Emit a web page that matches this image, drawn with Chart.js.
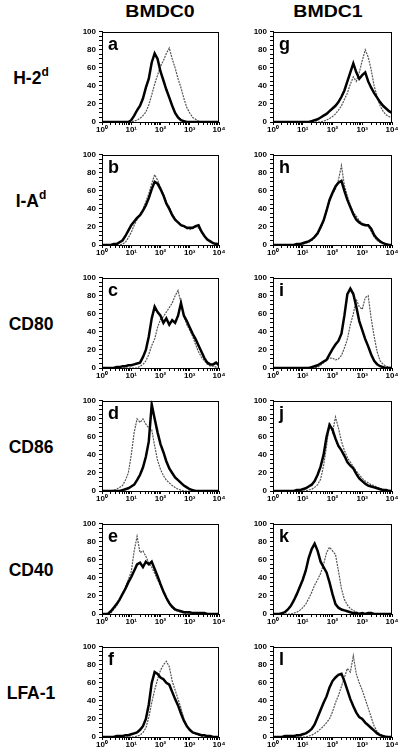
<!DOCTYPE html>
<html>
<head>
<meta charset="utf-8">
<script src="https://cdn.jsdelivr.net/npm/chart.js@4/dist/chart.umd.min.js"></script>
<style>
  body { margin: 0; background: #fff; width: 400px; height: 753px; position: relative; overflow: hidden;
         font-family: "Liberation Sans", Arial, Helvetica, sans-serif; color: #000; }
  canvas { position: absolute; }
  .hdr { position: absolute; top: 3px; font-size: 16px; font-weight: bold; white-space: nowrap;
         transform: translateX(-50%) scaleX(1.22); }
  .row { position: absolute; left: 0; width: 62px; text-align: center; font-size: 17.5px; font-weight: bold; white-space: nowrap; }
  .row sup { font-size: 12px; vertical-align: 0; position: relative; top: -8px; }
  .tag { position: absolute; font-size: 18px; font-weight: bold; line-height: 1; }
</style>
</head>
<body>
<div class="hdr" style="left:160px">BMDC0</div>
<div class="hdr" style="left:328px">BMDC1</div>

<script>
// fluorescence channels (log scale, 10^0 .. 10^4)
const channels = [1, 1.26, 1.58, 2, 2.51, 3.16, 3.98, 5.01, 6.31, 7.94,
  10, 12.6, 15.8, 20, 25.1, 31.6, 39.8, 50.1, 63.1, 79.4,
  100, 126, 158, 200, 251, 316, 398, 501, 631, 794,
  1000, 1259, 1585, 1995, 2512, 3162, 3981, 5012, 6310, 7943, 10000];

const markers = ["H-2", "I-A", "CD80", "CD86", "CD40", "LFA-1"];
const markerSup = ["d", "d", "", "", "", ""];
const columns = ["BMDC0", "BMDC1"];
const xTickLabels = ["10\u2070", "10\u00b9", "10\u00b2", "10\u00b3", "10\u2074"];

// BMDC0 column (thick = black line, thin = grey dotted line)
const aThick = [0,0,0,0,0,0,0,0,0,0,2,7,13,18,26,38,48,66,76,70,56,46,36,27,18,10,5,2,1,0,0,0,0,0,0,0,0,0,0,0,0];
const aThin  = [0,0,0,0,0,0,0,0,0,0,0,1,2,4,7,11,19,30,42,52,62,68,76,82,70,60,48,38,26,16,10,5,3,1,0,0,0,0,0,0,0];
const bThick = [0,0,0,0,1,1,3,5,10,16,22,26,30,33,38,44,52,62,70,68,62,55,46,40,33,28,25,22,21,19,19,19,21,22,15,10,6,4,2,1,1];
const bThin  = [0,0,0,0,0,0,0,1,3,8,14,22,28,34,40,48,57,68,78,72,64,56,48,42,35,29,25,22,20,18,17,18,20,19,14,10,7,5,3,2,1];
const cThick = [0,0,0,0,0,1,1,2,2,3,3,4,5,6,12,20,35,55,68,62,58,50,55,48,53,50,58,72,58,52,45,38,32,25,18,11,6,4,4,6,3];
const cThin  = [0,0,0,0,0,0,0,0,0,0,0,0,0,2,4,8,15,25,32,45,54,57,62,67,72,80,86,72,58,48,42,35,26,18,12,8,4,2,2,1,1];
const dThick = [0,0,0,0,0,0,0,1,2,3,5,7,12,18,26,38,55,96,80,65,52,43,33,25,20,15,12,9,6,4,2,1,0,0,0,0,0,0,0,0,0];
const dThin  = [0,0,0,0,1,2,4,6,12,20,40,65,80,76,80,74,70,68,50,34,24,17,12,9,6,4,2,1,0,0,0,0,0,0,0,0,0,0,0,0,0];
const eThick = [0,0,0,3,7,11,16,22,28,35,41,48,55,57,52,58,55,58,50,42,33,25,18,12,8,5,4,3,2,2,2,1,1,1,1,1,0,0,0,0,0];
const eThin  = [0,0,0,1,5,9,15,22,30,38,47,70,86,68,70,64,56,52,45,38,32,24,17,11,7,4,3,2,1,1,1,0,0,0,0,0,0,0,0,0,0];
const fThick = [0,0,0,0,0,1,1,1,2,2,3,4,5,8,12,20,36,60,72,70,66,64,60,58,50,42,35,26,18,12,8,5,4,3,2,2,1,1,0,0,0];
const fThin  = [0,0,0,0,0,0,0,0,0,0,0,0,1,2,5,10,22,38,52,64,74,80,84,78,62,52,42,32,20,13,8,5,3,2,1,0,0,0,0,0,0];

// BMDC1 column
const gThick = [0,0,0,0,0,0,0,0,0,0,0,0,0,1,2,3,5,7,9,12,15,18,22,28,35,45,55,65,55,48,52,55,45,38,32,27,22,18,15,12,10];
const gThin  = [0,0,0,0,0,0,0,0,0,0,0,0,0,0,0,0,0,1,2,4,6,9,13,18,25,32,42,50,45,55,68,80,72,58,40,28,18,12,8,6,5];
const hThick = [0,0,0,0,0,0,0,0,1,1,2,3,4,6,9,13,20,27,38,50,58,65,69,71,60,50,42,34,28,25,23,22,22,18,11,7,4,2,1,0,0];
const hThin  = [0,0,0,0,0,0,0,0,0,0,1,2,3,5,8,12,18,26,38,48,56,62,72,88,66,54,44,36,32,27,24,23,21,15,9,5,3,2,1,0,0];
const iThick = [0,0,0,0,0,0,0,0,0,0,0,0,0,1,2,3,5,7,9,15,21,26,30,38,58,82,88,82,68,52,42,32,24,15,8,4,2,1,0,0,0];
const iThin  = [0,0,0,0,0,0,0,0,0,0,0,0,0,0,0,1,3,6,9,11,11,9,10,14,22,32,48,60,76,68,65,78,80,55,35,18,8,4,2,1,0];
const jThick = [0,0,0,0,0,0,0,0,1,1,2,3,5,7,11,18,27,40,60,73,68,58,50,45,39,32,28,25,19,14,11,8,6,5,4,3,2,1,1,0,0];
const jThin  = [0,0,0,0,0,0,0,0,0,0,0,0,1,2,4,7,13,28,50,76,65,82,70,55,45,37,32,27,22,18,14,11,9,7,6,4,3,2,1,1,0];
const kThick = [0,0,0,1,2,5,9,15,22,30,38,48,62,72,78,70,58,52,46,35,22,11,7,5,4,3,2,1,1,0,1,0,1,1,0,0,0,0,0,0,0];
const kThin  = [0,0,0,0,0,0,0,1,2,4,7,11,17,24,32,38,45,55,68,74,70,66,48,28,16,10,6,4,2,1,1,0,0,0,0,0,0,0,0,0,0];
const lThick = [0,0,0,0,1,1,1,1,2,2,3,4,6,9,14,22,30,38,45,55,62,66,69,70,62,52,42,34,27,22,20,16,13,10,7,4,2,1,0,0,0];
const lThin  = [0,0,0,0,0,0,0,0,0,0,0,0,1,2,4,6,9,12,16,20,28,38,46,56,66,76,72,90,70,60,52,42,32,22,12,6,3,2,1,0,0];

const panels = [
  { tag: "a", col: 0, row: 0, thick: aThick, thin: aThin },
  { tag: "b", col: 0, row: 1, thick: bThick, thin: bThin },
  { tag: "c", col: 0, row: 2, thick: cThick, thin: cThin },
  { tag: "d", col: 0, row: 3, thick: dThick, thin: dThin },
  { tag: "e", col: 0, row: 4, thick: eThick, thin: eThin },
  { tag: "f", col: 0, row: 5, thick: fThick, thin: fThin },
  { tag: "g", col: 1, row: 0, thick: gThick, thin: gThin },
  { tag: "h", col: 1, row: 1, thick: hThick, thin: hThin },
  { tag: "i", col: 1, row: 2, thick: iThick, thin: iThin },
  { tag: "j", col: 1, row: 3, thick: jThick, thin: jThin },
  { tag: "k", col: 1, row: 4, thick: kThick, thin: kThin },
  { tag: "l", col: 1, row: 5, thick: lThick, thin: lThin },
];

Chart.defaults.font.family = '"Liberation Sans", Arial, Helvetica, sans-serif';
Chart.defaults.color = "#000";

// plot-area geometry
const areaLeft = [102, 273];
const areaRight = [219, 392];
const areaTop0 = 30, rowPitch = 123, areaH = 92;
const yAxisW = 32, xAxisH = 16, padTop = 6, padRight = 8;

// box round each plot
const frame = {
  id: "frame",
  afterDraw(chart) {
    const { ctx, chartArea: a } = chart;
    ctx.save();
    ctx.strokeStyle = "#000";
    ctx.lineWidth = 1;
    ctx.strokeRect(Math.round(a.left) + 0.5, Math.round(a.top) + 0.5,
      Math.round(a.right - a.left) - 1, Math.round(a.bottom - a.top));
    ctx.restore();
  },
};

// row labels
markers.forEach((m, r) => {
  const div = document.createElement("div");
  div.className = "row";
  div.style.top = (areaTop0 + r * rowPitch + areaH / 2 - 8) + "px";
  div.innerHTML = m + (markerSup[r] ? "<sup>" + markerSup[r] + "</sup>" : "");
  document.body.appendChild(div);
});

panels.forEach((p) => {
  const top = areaTop0 + p.row * rowPitch;
  const left = areaLeft[p.col] - yAxisW;
  const width = areaRight[p.col] - left + padRight;
  const height = padTop + areaH + xAxisH;

  const canvas = document.createElement("canvas");
  canvas.width = width;
  canvas.height = height;
  canvas.style.left = left + "px";
  canvas.style.top = (top - padTop) + "px";
  document.body.appendChild(canvas);

  const tag = document.createElement("div");
  tag.className = "tag";
  tag.textContent = p.tag;
  tag.style.left = (areaLeft[p.col] + 6) + "px";
  tag.style.top = (top + 5) + "px";
  document.body.appendChild(tag);

  new Chart(canvas.getContext("2d"), {
    type: "line",
    data: {
      datasets: [
        {
          data: channels.map((x, i) => ({ x: x, y: p.thick[i] })),
          borderColor: "#000",
          borderWidth: 2.5,
          pointRadius: 0,
          tension: 0,
        },
        {
          data: channels.map((x, i) => ({ x: x, y: p.thin[i] })),
          borderColor: "#555",
          borderWidth: 1.2,
          borderDash: [2, 1],
          pointRadius: 0,
          tension: 0,
        },
      ],
    },
    options: {
      responsive: false,
      animation: false,
      events: [],
      layout: { padding: { top: padTop, right: padRight, left: 0, bottom: 0 } },
      plugins: { legend: { display: false }, tooltip: { enabled: false } },
      scales: {
        x: {
          type: "logarithmic",
          min: 1,
          max: 10000,
          afterFit: (s) => { s.height = xAxisH; },
          afterBuildTicks: (s) => {
            const t = [];
            [1, 10, 100, 1000].forEach((d) => {
              for (let m = 1; m < 10; m++) t.push({ value: d * m });
            });
            t.push({ value: 10000 });
            s.ticks = t;
          },
          grid: { drawOnChartArea: false, drawTicks: true, tickLength: 3, color: "#000" },
          border: { color: "#000" },
          ticks: {
            autoSkip: false,
            maxRotation: 0,
            padding: 0,
            font: { size: 8, weight: "bold" },
            callback: (v) => {
              const e = Math.round(Math.log10(v));
              return Math.abs(v - Math.pow(10, e)) < 1e-6 ? xTickLabels[e] : "";
            },
          },
        },
        y: {
          min: 0,
          max: 100,
          afterFit: (s) => { s.width = yAxisW; },
          grid: { drawOnChartArea: false, drawTicks: true, tickLength: 3, color: "#000" },
          border: { color: "#000" },
          ticks: {
            stepSize: 5,
            autoSkip: false,
            padding: 3,
            font: { size: 8, weight: "bold" },
            callback: (v) => (v % 20 === 0 ? v : ""),
          },
        },
      },
    },
    plugins: [frame],
  });
});
</script>
</body>
</html>
